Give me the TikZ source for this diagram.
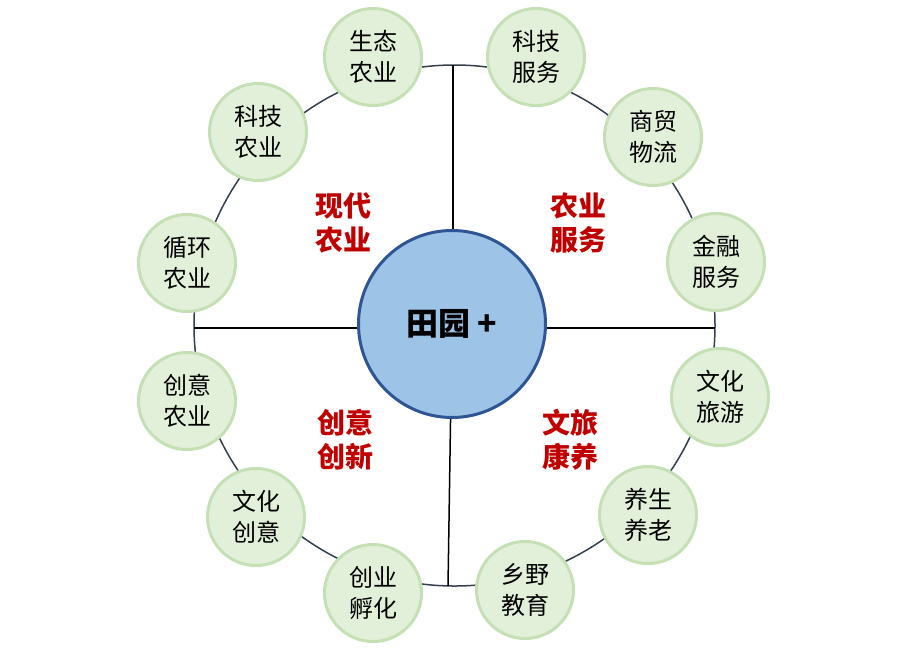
\documentclass[tikz,border=0pt]{standalone}
\usepackage{fontspec}
\setmainfont{Noto Sans CJK SC}
\definecolor{ringblue}{HTML}{333F50}
\definecolor{leafgreen}{HTML}{E2F0D9}
\definecolor{leafedge}{HTML}{C5E0B4}
\definecolor{hubblue}{HTML}{9DC3E6}
\definecolor{hubedge}{HTML}{2F5597}
\definecolor{sectorred}{HTML}{C00000}
\begin{document}
\begin{tikzpicture}[x=1pt,y=-1pt,
  leaf/.style={circle,draw=leafedge,line width=3pt,fill=leafgreen,inner sep=0pt,minimum size=97pt,align=center,font=\fontsize{24}{31}\selectfont},
  hub/.style={circle,draw=hubedge,line width=3pt,fill=hubblue,inner sep=0pt,minimum size=187pt,font=\fontsize{32}{36}\selectfont\bfseries},
  sector/.style={text=sectorred,align=center,font=\fontsize{28}{34}\selectfont\bfseries}]
\useasboundingbox (0,0) rectangle (901,649);
\draw[ringblue,line width=1.5pt] (454.5,325.5) circle[radius=260.5pt];
\coordinate (ringtop) at (453,65);
\coordinate (ringleft) at (194,328);
\coordinate (ringright) at (715,328);
\coordinate (ringbot) at (448,586);
\node[hub] (tianyuan) at (452,324) {田园 +};
\draw[line width=1.5pt] (ringtop) -- (ringtop |- tianyuan.north);
\draw[line width=1.5pt] (ringleft) -- (ringleft -| tianyuan.west);
\draw[line width=1.5pt] (ringright) -- (ringright -| tianyuan.east);
\draw[line width=1.5pt] (tianyuan) -- (ringbot);
% ring of leaves
\node[leaf] (shengtai) at (373,57) {生态\\农业};
\node[leaf] (kejifw) at (536,57) {科技\\服务};
\node[leaf] (kejiny) at (258,132) {科技\\农业};
\node[leaf] (shangmao) at (653,137) {商贸\\物流};
\node[leaf] (xunhuan) at (187,263) {循环\\农业};
\node[leaf] (jinrong) at (716,262) {金融\\服务};
\node[leaf] (chuangyi) at (187,401) {创意\\农业};
\node[leaf] (wenlv) at (720,397) {文化\\旅游};
\node[leaf] (wenhua) at (256,517) {文化\\创意};
\node[leaf] (yangsheng) at (648,515) {养生\\养老};
\node[leaf] (chuangye) at (373,593) {创业\\孵化};
\node[leaf] (xiangye) at (525,590) {乡野\\教育};
% sectors
\node[sector] (xiandai) at (343,223) {现代\\农业};
\node[sector] (nongfw) at (578,223) {农业\\服务};
\node[sector] (chuangxin) at (345,440) {创意\\创新};
\node[sector] (kangyang) at (570,440) {文旅\\康养};
\end{tikzpicture}
\end{document}
